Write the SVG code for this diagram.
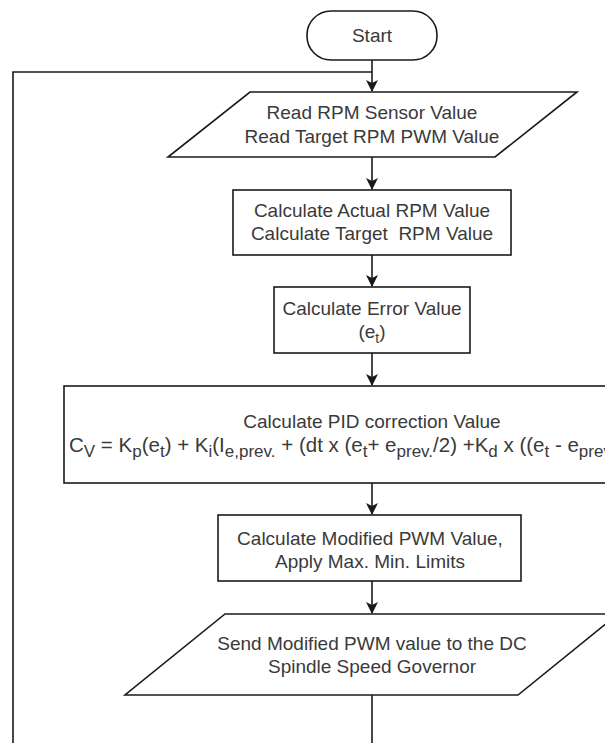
<svg xmlns="http://www.w3.org/2000/svg" width="605" height="743" viewBox="0 0 605 743">
<defs>
<style>
.shape{fill:#fff;stroke:#1a1a1a;stroke-width:1.6}
.lbl{font-family:"Liberation Sans",Arial,sans-serif;font-size:19px;fill:#3a3a3a;text-anchor:middle}
.f{font-family:"Liberation Sans",Arial,sans-serif;font-size:20.5px;fill:#3a3a3a}
.s{font-size:14px}
.fs{font-size:17px}
.conn{fill:none;stroke:#1a1a1a;stroke-width:1.6}
</style>
<marker id="arr" viewBox="0 0 12 12" refX="11" refY="6" markerWidth="12" markerHeight="12" markerUnits="userSpaceOnUse" orient="auto">
<path d="M0,0 L12,6 L0,12 L3,6 Z" fill="#1a1a1a"/>
</marker>
</defs>
<rect width="605" height="743" fill="#fff"/>
<g id="connectors">
<path class="conn" d="M372,60 V91" marker-end="url(#arr)"/>
<path class="conn" d="M13,743 V72 H372"/>
<path class="conn" d="M372,157 V189" marker-end="url(#arr)"/>
<path class="conn" d="M372,255 V286" marker-end="url(#arr)"/>
<path class="conn" d="M372,353 V385" marker-end="url(#arr)"/>
<path class="conn" d="M372,483 V514" marker-end="url(#arr)"/>
<path class="conn" d="M372,581 V613" marker-end="url(#arr)"/>
<path class="conn" d="M372,695 V743"/>
</g>
<g id="start">
<rect class="shape" x="307" y="11" width="130" height="49" rx="24" ry="24"/>
<text class="lbl" x="372" y="42">Start</text>
</g>
<g id="read-inputs">
<polygon class="shape" points="250,92 577,92 495,157 168,157"/>
<text class="lbl" x="372" y="119">Read RPM Sensor Value</text>
<text class="lbl" x="372" y="143">Read Target RPM PWM Value</text>
</g>
<g id="calc-rpm">
<rect class="shape" x="233" y="190" width="278" height="65"/>
<text class="lbl" x="372" y="217">Calculate Actual RPM Value</text>
<text class="lbl" x="372" y="240" xml:space="preserve">Calculate Target  RPM Value</text>
</g>
<g id="calc-error">
<rect class="shape" x="274" y="287" width="196" height="66"/>
<text class="lbl" x="372" y="315">Calculate Error Value</text>
<text class="lbl" x="372" y="338">(e<tspan class="s" dy="5">t</tspan><tspan dy="-5">)</tspan></text>
</g>
<g id="calc-pid">
<rect class="shape" x="64" y="386" width="616" height="97"/>
<text class="lbl" x="372" y="428">Calculate PID correction Value</text>
<text class="f" x="69" y="452">C<tspan class="fs" dy="5">V</tspan><tspan dy="-5"> = K</tspan><tspan class="fs" dy="5">p</tspan><tspan dy="-5">(e</tspan><tspan class="fs" dy="5">t</tspan><tspan dy="-5">) + K</tspan><tspan class="fs" dy="5">i</tspan><tspan dy="-5">(I</tspan><tspan class="fs" dy="5">e,prev.</tspan><tspan dy="-5"> + (dt x (e</tspan><tspan class="fs" dy="5">t</tspan><tspan dy="-5">+ e</tspan><tspan class="fs" dy="5">prev.</tspan><tspan dy="-5">/2) +K</tspan><tspan class="fs" dy="5">d</tspan><tspan dy="-5"> x ((e</tspan><tspan class="fs" dy="5">t</tspan><tspan dy="-5"> - e</tspan><tspan class="fs" dy="5">prev.</tspan><tspan dy="-5">)/dt)</tspan></text>
</g>
<g id="calc-pwm">
<rect class="shape" x="218" y="515" width="303" height="66"/>
<text class="lbl" x="370" y="545">Calculate Modified PWM Value,</text>
<text class="lbl" x="370" y="568">Apply Max. Min. Limits</text>
</g>
<g id="send-pwm">
<polygon class="shape" points="225,614 618,614 518,695 125,695"/>
<text class="lbl" x="372" y="650">Send Modified PWM value to the DC</text>
<text class="lbl" x="372" y="673">Spindle Speed Governor</text>
</g>
</svg>
